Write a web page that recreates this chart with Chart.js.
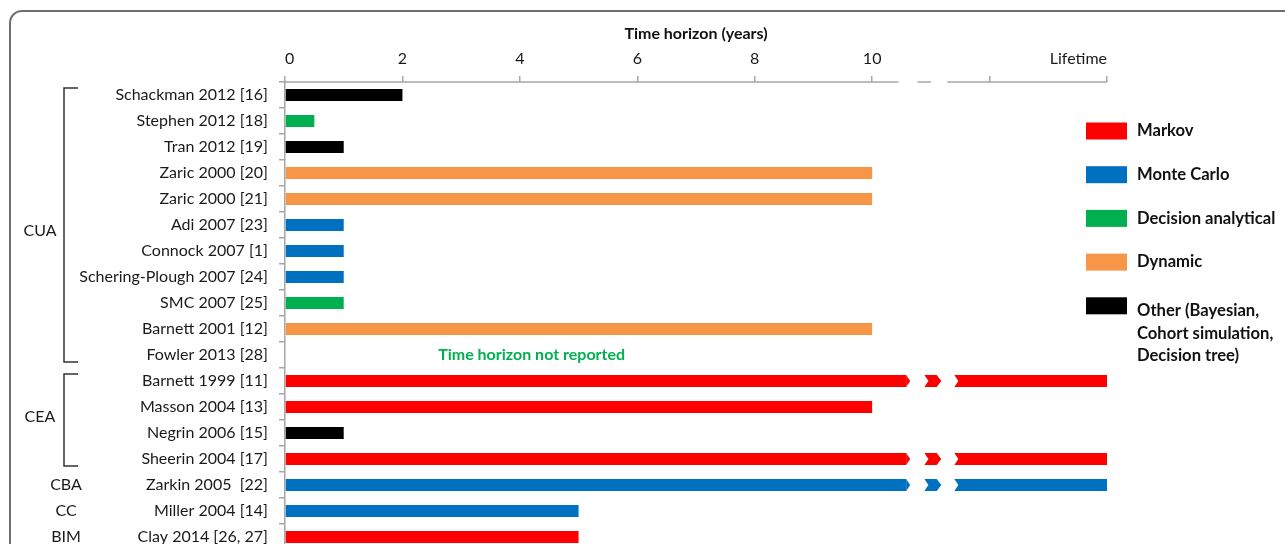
<!DOCTYPE html>
<html>
<head>
<meta charset="utf-8">
<script src="https://cdn.jsdelivr.net/npm/chart.js@4.4.0/dist/chart.umd.min.js"></script>
<style>
  html, body { margin: 0; padding: 0; background: #fff; overflow: hidden; }
  #frame {
    position: absolute; left: 9px; top: 10px; width: 1400px; height: 700px;
    border-top: 2px solid #6e6e6e; border-left: 2px solid #6e6e6e;
    border-top-left-radius: 13px;
  }
  #horizonChart { position: absolute; left: 0; top: 0; }
</style>
</head>
<body>
<div id="frame"></div>
<canvas id="horizonChart" width="1285" height="550"></canvas>
<script>
// "Lifetime" sits at position 14 on the broken axis
const LIFETIME = 14;
const L = LIFETIME;

const studies = [
  "Schackman 2012 [16]", "Stephen 2012 [18]", "Tran 2012 [19]", "Zaric 2000 [20]",
  "Zaric 2000 [21]", "Adi 2007 [23]", "Connock 2007 [1]", "Schering-Plough 2007 [24]",
  "SMC 2007 [25]", "Barnett 2001 [12]", "Fowler 2013 [28]", "Barnett 1999 [11]",
  "Masson 2004 [13]", "Negrin 2006 [15]", "Sheerin 2004 [17]", "Zarkin 2005  [22]",
  "Miller 2004 [14]", "Clay 2014 [26, 27]"
];

const markov     = [null, null, null, null, null, null, null, null, null, null, null, L, 10, null, L, null, null, 5];
const monteCarlo = [null, null, null, null, null, 1, 1, 1, null, null, null, null, null, null, null, L, 5, null];
const decision   = [null, 0.5, null, null, null, null, null, null, 1, null, null, null, null, null, null, null, null, null];
const dynamic    = [null, null, null, 10, 10, null, null, null, null, 10, null, null, null, null, null, null, null, null];
const other      = [2, null, 1, null, null, null, null, null, null, null, null, null, null, 1, null, null, null, null];

const seriesNames = ["Markov", "Monte Carlo", "Decision analytical", "Dynamic",
  "Other (Bayesian, Cohort simulation, Decision tree)"];
const seriesColors = ["#ff0000", "#0070c0", "#00b050", "#f79646", "#000000"];

const xTickValues = [0, 2, 4, 6, 8, 10, 12, 14];
const xTickLabels = ["0", "2", "4", "6", "8", "10", "", "Lifetime"];

// analysis type groups (row ranges)
const groupNames = ["CUA", "CEA", "CBA", "CC", "BIM"];
const groupStart = [0, 11, 15, 16, 17];
const groupEnd   = [10, 14, 15, 16, 17];

const notReportedRow = 10;
const notReportedText = "Time horizon not reported";

Chart.defaults.font.family = "Lato";
Chart.defaults.color = "#1a1a1a";

// white gaps in the top axis line (in axis units)
const axisSegments = [[0, 10.45], [10.77, 11.0], [11.28, 14]];

const axisBreakPlugin = {
  id: "axisBreak",
  afterDraw(chart) {
    const { ctx, chartArea } = chart;
    const xs = chart.scales.x;
    ctx.save();
    ctx.strokeStyle = "#a6a6a6";
    ctx.lineWidth = 1.5;
    axisSegments.forEach(([a, b]) => {
      ctx.beginPath();
      ctx.moveTo(xs.getPixelForValue(a), chartArea.top);
      ctx.lineTo(xs.getPixelForValue(b), chartArea.top);
      ctx.stroke();
    });
    ctx.restore();
  }
};

// draw the "break" chevrons on lifetime bars
const barBreakPlugin = {
  id: "barBreak",
  afterDatasetsDraw(chart) {
    const { ctx } = chart;
    const xs = chart.scales.x;
    const cut1 = xs.getPixelForValue(10.58);
    const chevA = xs.getPixelForValue(10.89);
    const chevB = xs.getPixelForValue(11.10);
    const resume = xs.getPixelForValue(11.40);
    ctx.save();
    chart.data.datasets.forEach((ds, di) => {
      const meta = chart.getDatasetMeta(di);
      ds.data.forEach((v, i) => {
        if (v !== LIFETIME) return;
        const bar = meta.data[i];
        const top = bar.y - bar.height / 2, bot = bar.y + bar.height / 2, mid = bar.y;
        ctx.fillStyle = "#fff";
        ctx.fillRect(cut1, top - 1, resume + 5 - cut1, bot - top + 2);
        ctx.fillStyle = ds.backgroundColor;
        // arrow tip of first piece
        ctx.beginPath();
        ctx.moveTo(cut1, top); ctx.lineTo(cut1 + 4, mid); ctx.lineTo(cut1, bot);
        ctx.closePath(); ctx.fill();
        // small chevron
        ctx.beginPath();
        ctx.moveTo(chevA, top); ctx.lineTo(chevB, top); ctx.lineTo(chevB + 4.5, mid);
        ctx.lineTo(chevB, bot); ctx.lineTo(chevA, bot); ctx.lineTo(chevA + 4, mid);
        ctx.closePath(); ctx.fill();
        // notch at restart
        ctx.beginPath();
        ctx.moveTo(resume, top); ctx.lineTo(resume + 6, top); ctx.lineTo(resume + 6, bot);
        ctx.lineTo(resume, bot); ctx.lineTo(resume + 4, mid);
        ctx.closePath(); ctx.fill();
      });
    });
    ctx.restore();
  }
};

const groupPlugin = {
  id: "groups",
  afterDraw(chart) {
    const { ctx } = chart;
    const ys = chart.scales.y;
    const xs = chart.scales.x;
    ctx.save();
    ctx.font = "16px Lato";
    ctx.fillStyle = "#1a1a1a";
    ctx.textAlign = "center";
    ctx.textBaseline = "middle";
    ctx.strokeStyle = "#333";
    ctx.lineWidth = 1.5;
    groupNames.forEach((name, g) => {
      const y0 = ys.getPixelForValue(groupStart[g]);
      const y1 = ys.getPixelForValue(groupEnd[g]);
      if (groupEnd[g] > groupStart[g]) {
        const t = y0 - 7, b = y1 + 7;
        ctx.beginPath();
        ctx.moveTo(78, t); ctx.lineTo(64, t); ctx.lineTo(64, b); ctx.lineTo(78, b);
        ctx.stroke();
        ctx.fillText(name, 40, (y0 + y1) / 2 + (g === 0 ? 6 : -3));
      } else {
        ctx.fillText(name, 66, y0);
      }
    });
    // note for the study without a time horizon
    ctx.font = "bold 16px Lato";
    ctx.fillStyle = "#00b050";
    ctx.fillText(notReportedText, xs.getPixelForValue(4.2), ys.getPixelForValue(notReportedRow));
    ctx.restore();
  }
};

function wrapText(ctx, text, maxW) {
  const words = text.split(" ");
  const lines = [];
  let cur = "";
  words.forEach(w => {
    const test = cur ? cur + " " + w : w;
    if (ctx.measureText(test).width > maxW && cur) { lines.push(cur); cur = w; }
    else cur = test;
  });
  lines.push(cur);
  return lines;
}

const sideLegendPlugin = {
  id: "sideLegend",
  afterDraw(chart) {
    const { ctx } = chart;
    ctx.save();
    ctx.font = "bold 16.6px Lato";
    ctx.textBaseline = "middle";
    ctx.textAlign = "left";
    chart.data.datasets.forEach((ds, i) => {
      const y = 131 + i * 43.7;
      ctx.fillStyle = ds.backgroundColor;
      ctx.fillRect(1086, y - 8.5, 41, 17);
      ctx.fillStyle = "#111";
      const lines = wrapText(ctx, ds.label, 150);
      const off = lines.length > 1 ? 5 : 0;
      lines.forEach((line, j) => ctx.fillText(line, 1137, y + off + j * 22.5));
    });
    ctx.restore();
  }
};

const seriesData = [markov, monteCarlo, decision, dynamic, other];

new Chart(document.getElementById("horizonChart"), {
  type: "bar",
  data: {
    labels: studies,
    datasets: seriesNames.map((name, i) => ({
      label: name,
      data: seriesData[i],
      backgroundColor: seriesColors[i],
      barPercentage: 0.46,
      categoryPercentage: 1
    }))
  },
  options: {
    indexAxis: "y",
    responsive: false,
    animation: false,
    layout: { padding: { left: 0, right: 178, top: 0, bottom: 0 } },
    plugins: {
      legend: { display: false },
      tooltip: { enabled: false }
    },
    scales: {
      x: {
        position: "top",
        stacked: true,
        min: 0,
        max: LIFETIME,
        afterFit: s => { s.height = 82; },
        afterBuildTicks: s => { s.ticks = xTickValues.map(v => ({ value: v })); },
        ticks: {
          align: "inner",
          padding: 8,
          color: "#1a1a1a",
          font: { size: 16 },
          callback: v => xTickLabels[xTickValues.indexOf(v)]
        },
        grid: { drawOnChartArea: false, tickLength: 6, color: "#a6a6a6", lineWidth: 1.5 },
        border: { display: false },
        title: {
          display: true,
          text: "Time horizon (years)",
          color: "#111",
          font: { size: 16, weight: "bold" },
          padding: { top: 24, bottom: 0 }
        }
      },
      y: {
        stacked: true,
        afterFit: s => { s.width = 285; s.paddingTop = 0; s.paddingBottom = 0; },
        ticks: { padding: 11, color: "#1a1a1a", font: { size: 16 } },
        grid: { drawOnChartArea: false, tickLength: 6, color: "#a6a6a6", lineWidth: 1.5, offset: true },
        border: { display: true, color: "#a6a6a6", width: 1.5 }
      }
    }
  },
  plugins: [barBreakPlugin, axisBreakPlugin, groupPlugin, sideLegendPlugin]
});
</script>
</body>
</html>
